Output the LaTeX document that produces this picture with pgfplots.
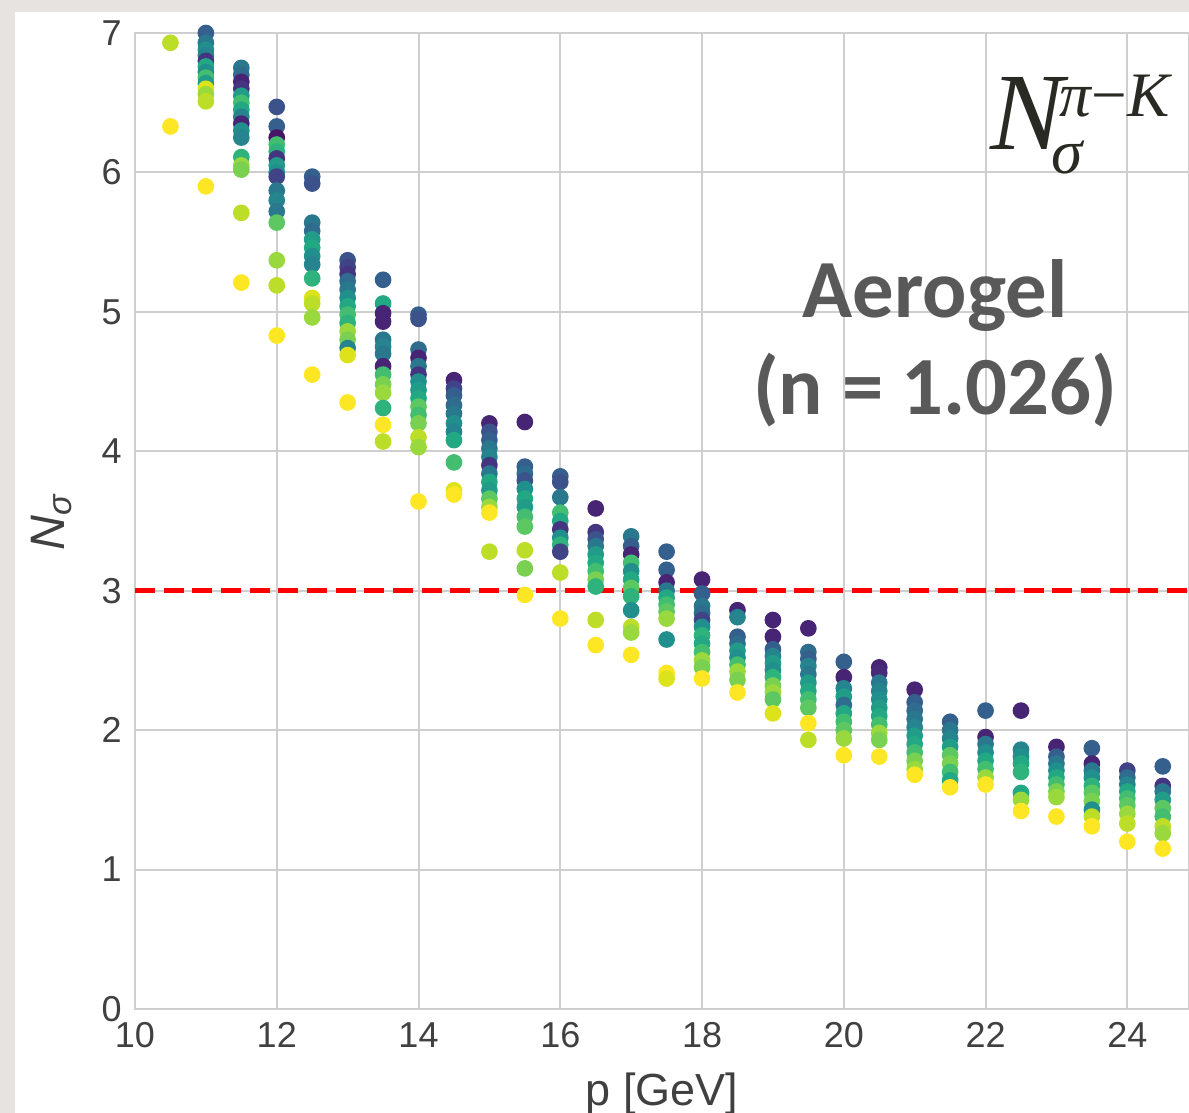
\documentclass[border=0pt]{standalone}
\usepackage{pgfplots}
\usepackage{pgfplotstable}
\pgfplotsset{compat=1.18}
\usepackage{fontspec}
\setmainfont{Liberation Sans}
\newfontfamily\carlito{Carlito}
\newfontfamily\tnr{Liberation Serif}
\definecolor{gridgray}{HTML}{CFCFCF}
\definecolor{ticktext}{HTML}{404040}
\definecolor{annot}{HTML}{595959}
\definecolor{marble}{HTML}{E6E3E0}
\definecolor{formula}{HTML}{2A2A24}

\pgfplotstableread{
x y c
10.5 6.93 0.9
10.5 6.33 1.0
11 7.00 0.3
11 6.93 0.4
11 6.88 0.5
11 6.84 0.45
11 6.80 0.15
11 6.76 0.6
11 6.72 0.5
11 6.68 0.7
11 6.64 0.55
11 6.60 0.95
11 6.56 0.85
11 6.51 0.9
11 5.90 1.0
11.5 6.75 0.4
11.5 6.70 0.35
11.5 6.65 0.1
11.5 6.60 0.15
11.5 6.55 0.55
11.5 6.50 0.7
11.5 6.45 0.6
11.5 6.40 0.45
11.5 6.35 0.1
11.5 6.30 0.5
11.5 6.25 0.45
11.5 6.11 0.65
11.5 6.05 0.85
11.5 6.02 0.8
11.5 5.71 0.9
11.5 5.21 1.0
12 6.47 0.25
12 6.33 0.3
12 6.25 0.05
12 6.20 0.7
12 6.15 0.65
12 6.10 0.15
12 6.05 0.55
12 6.00 0.5
12 5.97 0.2
12 5.87 0.4
12 5.80 0.45
12 5.72 0.4
12 5.64 0.75
12 5.37 0.85
12 5.19 0.9
12 4.83 1.0
12.5 5.97 0.3
12.5 5.92 0.25
12.5 5.64 0.4
12.5 5.58 0.35
12.5 5.52 0.55
12.5 5.46 0.6
12.5 5.40 0.5
12.5 5.34 0.45
12.5 5.24 0.65
12.5 5.10 0.95
12.5 5.06 0.9
12.5 4.96 0.85
12.5 4.55 1.0
13 5.37 0.25
13 5.32 0.2
13 5.27 0.15
13 5.22 0.35
13 5.16 0.4
13 5.10 0.5
13 5.04 0.6
13 4.98 0.7
13 4.92 0.65
13 4.86 0.85
13 4.80 0.8
13 4.74 0.45
13 4.69 0.95
13 4.35 1.0
13.5 5.23 0.3
13.5 5.06 0.6
13.5 4.99 0.1
13.5 4.93 0.1
13.5 4.80 0.4
13.5 4.75 0.45
13.5 4.70 0.4
13.5 4.61 0.1
13.5 4.55 0.7
13.5 4.48 0.8
13.5 4.42 0.85
13.5 4.31 0.65
13.5 4.19 1.0
13.5 4.07 0.9
14 4.98 0.3
14 4.95 0.25
14 4.73 0.35
14 4.67 0.1
14 4.61 0.4
14 4.55 0.15
14 4.50 0.5
14 4.44 0.55
14 4.38 0.6
14 4.32 0.75
14 4.26 0.7
14 4.20 0.8
14 4.10 0.9
14 4.03 0.85
14 3.64 1.0
14.5 4.51 0.1
14.5 4.45 0.2
14.5 4.40 0.3
14.5 4.33 0.35
14.5 4.27 0.4
14.5 4.20 0.5
14.5 4.14 0.45
14.5 4.08 0.6
14.5 3.92 0.7
14.5 3.72 0.95
14.5 3.69 1.0
15 4.20 0.1
15 4.14 0.25
15 4.08 0.3
15 4.02 0.4
15 3.96 0.45
15 3.90 0.15
15 3.84 0.4
15 3.78 0.6
15 3.72 0.55
15 3.66 0.75
15 3.60 0.85
15 3.56 1.0
15 3.28 0.9
15.5 4.21 0.1
15.5 3.89 0.3
15.5 3.84 0.35
15.5 3.79 0.25
15.5 3.73 0.5
15.5 3.66 0.6
15.5 3.60 0.55
15.5 3.53 0.7
15.5 3.46 0.75
15.5 3.29 0.9
15.5 3.16 0.8
15.5 2.97 1.0
16 3.82 0.3
16 3.78 0.25
16 3.67 0.4
16 3.56 0.7
16 3.50 0.6
16 3.44 0.15
16 3.38 0.5
16 3.33 0.65
16 3.28 0.2
16 3.13 0.9
16 2.80 1.0
16.5 3.59 0.1
16.5 3.42 0.15
16.5 3.37 0.25
16.5 3.32 0.4
16.5 3.26 0.55
16.5 3.20 0.6
16.5 3.14 0.7
16.5 3.08 0.8
16.5 3.03 0.65
16.5 2.79 0.9
16.5 2.61 1.0
17 3.39 0.4
17 3.32 0.3
17 3.26 0.1
17 3.20 0.7
17 3.14 0.5
17 3.08 0.6
17 3.02 0.75
17 2.96 0.65
17 2.86 0.5
17 2.74 0.9
17 2.70 0.85
17 2.54 1.0
17.5 3.28 0.3
17.5 3.15 0.3
17.5 3.06 0.1
17.5 3.00 0.4
17.5 2.95 0.6
17.5 2.90 0.7
17.5 2.85 0.75
17.5 2.80 0.85
17.5 2.65 0.5
17.5 2.41 1.0
17.5 2.37 0.95
18 3.08 0.1
18 2.98 0.3
18 2.89 0.4
18 2.84 0.35
18 2.79 0.2
18 2.74 0.5
18 2.68 0.65
18 2.62 0.6
18 2.56 0.7
18 2.50 0.85
18 2.45 0.8
18 2.37 1.0
18.5 2.86 0.1
18.5 2.81 0.45
18.5 2.67 0.3
18.5 2.62 0.35
18.5 2.57 0.55
18.5 2.52 0.5
18.5 2.47 0.7
18.5 2.42 0.85
18.5 2.36 0.8
18.5 2.27 1.0
19 2.79 0.1
19 2.67 0.1
19 2.58 0.3
19 2.53 0.45
19 2.48 0.55
19 2.43 0.5
19 2.38 0.65
19 2.32 0.8
19 2.27 0.85
19 2.22 0.75
19 2.12 0.95
19.5 2.73 0.1
19.5 2.56 0.35
19.5 2.51 0.3
19.5 2.46 0.45
19.5 2.40 0.4
19.5 2.34 0.55
19.5 2.28 0.6
19.5 2.22 0.7
19.5 2.16 0.75
19.5 2.05 1.0
19.5 1.93 0.9
20 2.49 0.3
20 2.38 0.1
20 2.30 0.45
20 2.24 0.55
20 2.18 0.35
20 2.12 0.6
20 2.06 0.7
20 2.00 0.75
20 1.94 0.85
20 1.82 1.0
20.5 2.45 0.1
20.5 2.41 0.12
20.5 2.34 0.4
20.5 2.28 0.45
20.5 2.22 0.5
20.5 2.16 0.55
20.5 2.10 0.6
20.5 2.04 0.7
20.5 1.98 0.85
20.5 1.93 0.8
20.5 1.81 1.0
21 2.29 0.1
21 2.20 0.3
21 2.14 0.35
21 2.08 0.4
21 2.02 0.45
21 1.96 0.55
21 1.90 0.6
21 1.84 0.7
21 1.78 0.8
21 1.72 0.85
21 1.68 1.0
21.5 2.06 0.3
21.5 2.00 0.4
21.5 1.94 0.45
21.5 1.88 0.55
21.5 1.82 0.75
21.5 1.76 0.8
21.5 1.70 0.7
21.5 1.64 0.6
21.5 1.59 1.0
22 2.14 0.3
22 1.95 0.1
22 1.90 0.4
22 1.84 0.5
22 1.78 0.6
22 1.72 0.7
22 1.66 0.85
22 1.61 1.0
22.5 2.14 0.1
22.5 1.86 0.45
22.5 1.81 0.5
22.5 1.76 0.6
22.5 1.70 0.65
22.5 1.55 0.6
22.5 1.50 0.85
22.5 1.42 1.0
23 1.88 0.1
23 1.81 0.3
23 1.76 0.4
23 1.71 0.5
23 1.66 0.6
23 1.61 0.7
23 1.56 0.8
23 1.52 0.85
23 1.38 1.0
23.5 1.87 0.3
23.5 1.76 0.1
23.5 1.71 0.4
23.5 1.66 0.5
23.5 1.60 0.65
23.5 1.55 0.75
23.5 1.49 0.8
23.5 1.43 0.5
23.5 1.38 0.9
23.5 1.31 1.0
24 1.71 0.2
24 1.66 0.35
24 1.61 0.45
24 1.56 0.6
24 1.51 0.7
24 1.46 0.75
24 1.40 0.85
24 1.33 0.9
24 1.20 1.0
24.5 1.74 0.3
24.5 1.60 0.15
24.5 1.56 0.4
24.5 1.50 0.55
24.5 1.44 0.75
24.5 1.38 0.7
24.5 1.31 0.9
24.5 1.26 0.85
24.5 1.15 1.0
}\scatterdata

\begin{document}
\begin{tikzpicture}
\useasboundingbox (-40.5pt,-31.2pt) rectangle (316.2pt,302.7pt);
\fill[marble] (-40.5pt,299.1pt) rectangle (316.2pt,302.7pt);
\fill[marble] (-40.5pt,-31.2pt) rectangle (-36pt,302.7pt);
\begin{axis}[
  at={(0pt,0pt)}, anchor=south west,
  scale only axis,
  width=316.2pt, height=292.8pt,
  xmin=10, xmax=24.87, ymin=0, ymax=7,
  xtick={10,12,...,24}, ytick={0,1,...,7},
  grid=major,
  major grid style={draw=gridgray, line width=0.6pt},
  axis line style={draw=gridgray, line width=0.6pt},
  tick style={draw=none},
  /pgf/number format/assume math mode=true,
  ticklabel style={font=\fontsize{10.8}{12}\selectfont, text=ticktext},
  xticklabel style={yshift=-0.5pt},
  yticklabel style={xshift=-0.5pt},
  xlabel={p [GeV]},
  xlabel style={font=\fontsize{13.5}{15}\selectfont, text=ticktext, yshift=-0.5pt},
  ylabel={\textit{N}\textsubscript{\textit{σ}}},
  ylabel style={font=\fontsize{14.5}{16}\selectfont, text=ticktext, yshift=2pt},
  colormap/viridis,
  point meta min=0, point meta max=1,
  clip=true,
]
\addplot[scatter, only marks, mark=*, mark size=2.3pt, scatter src=explicit,
  scatter/use mapped color={draw=mapped color, fill=mapped color}]
  table[x=x, y=y, meta=c] {\scatterdata};
\addplot[red, line width=1.5pt, dash pattern=on 6pt off 2.6pt] coordinates {(10,3) (24.87,3)};
\node[anchor=center, text=annot, font=\carlito\bfseries\fontsize{24.8}{29}\selectfont] at (axis cs:21.29,5.12) {Aerogel};
\node[anchor=center, text=annot, font=\carlito\bfseries\fontsize{24.8}{29}\selectfont] at (axis cs:21.29,4.44) {(n = 1.026)};
\node[anchor=base west, inner sep=0pt, text=formula, font=\tnr\fontsize{33}{36}\selectfont] at (axis cs:22.066,6.162)
  {\itshape N\kern-1.3pt\rlap{\kern-2.5pt\raisebox{-7pt}{\fontsize{19}{20}\selectfont\itshape σ}}\raisebox{10pt}{\fontsize{19}{20}\selectfont\itshape π\upshape−\itshape K}};
\end{axis}
\end{tikzpicture}
\end{document}
